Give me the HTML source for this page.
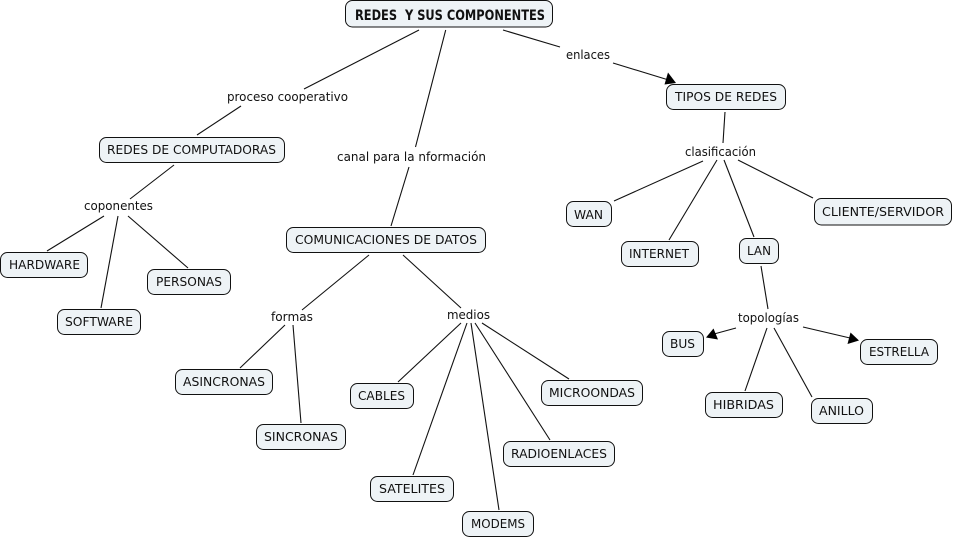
<!DOCTYPE html>
<html><head><meta charset="utf-8"><style>
html,body{margin:0;padding:0;background:#fff;width:954px;height:539px;overflow:hidden}
svg{display:block}
text{font-family:"DejaVu Sans","Liberation Sans",sans-serif;font-size:12px;fill:#111}
rect{fill:#eef3f6;stroke:#111;stroke-width:1}
line{stroke:#111;stroke-width:1.1}
polygon{fill:#000}
</style></head><body>
<svg width="954" height="539" viewBox="0 0 954 539" xmlns="http://www.w3.org/2000/svg">
<line x1="419" y1="30" x2="304" y2="89"/><line x1="241" y1="106" x2="197" y2="135"/>
<line x1="445.7" y1="30" x2="415.5" y2="147"/><line x1="409" y1="167" x2="391" y2="226"/>
<line x1="503" y1="30" x2="560" y2="47"/><line x1="613" y1="63" x2="667" y2="79.5"/>
<polygon points="676,83 668,72.5 664.5,84.5"/>
<line x1="725" y1="112" x2="723" y2="143"/>
<line x1="703" y1="161" x2="614" y2="201"/><line x1="717" y1="160" x2="669" y2="240"/>
<line x1="724" y1="160" x2="754" y2="237"/><line x1="738" y1="160" x2="813" y2="198"/>
<line x1="174" y1="165" x2="130" y2="199"/><line x1="104" y1="216" x2="47" y2="251"/>
<line x1="118" y1="216" x2="101" y2="308"/><line x1="128" y1="216" x2="188" y2="268"/>
<line x1="369" y1="255" x2="302" y2="310"/><line x1="403" y1="255" x2="461" y2="308"/>
<line x1="285" y1="325" x2="240" y2="368"/><line x1="293" y1="325" x2="301" y2="423"/>
<line x1="461" y1="323" x2="398" y2="382"/><line x1="467" y1="323" x2="413" y2="475"/>
<line x1="471" y1="323" x2="499" y2="510"/><line x1="475" y1="323" x2="550" y2="440"/>
<line x1="482" y1="323" x2="569" y2="379"/>
<line x1="761" y1="266" x2="768" y2="309"/>
<line x1="736" y1="328" x2="714" y2="334"/><polygon points="706,337.5 713.5,328.5 718,339.5"/>
<line x1="803" y1="327" x2="850" y2="338"/>
<polygon points="859,340.5 850.5,332.5 847.5,344"/>
<line x1="767" y1="328" x2="745" y2="391"/><line x1="774" y1="328" x2="812" y2="397"/>

<rect x="345.5" y="0.5" width="207" height="26.5" rx="7"/>
<rect x="666.5" y="84.5" width="119" height="25" rx="7"/>
<rect x="814.5" y="198.5" width="137" height="26.5" rx="7"/>
<rect x="99.5" y="137.5" width="185" height="25" rx="7"/>
<rect x="0.5" y="252.5" width="87" height="25" rx="7"/>
<rect x="147.5" y="269.5" width="83" height="25" rx="7"/>
<rect x="57.5" y="309.5" width="83" height="25" rx="7"/>
<rect x="286.5" y="227.5" width="199" height="25" rx="7"/>
<rect x="175.5" y="369.5" width="97" height="25" rx="7"/>
<rect x="256.5" y="424.5" width="89" height="25" rx="7"/>
<rect x="350.5" y="383.5" width="63" height="25" rx="7"/>
<rect x="541.5" y="380.5" width="101" height="25" rx="7"/>
<rect x="503.5" y="441.5" width="111" height="25" rx="7"/>
<rect x="370.5" y="476.5" width="83" height="25" rx="7"/>
<rect x="462.5" y="511.5" width="71" height="25" rx="7"/>
<rect x="566.5" y="201.5" width="45" height="25" rx="7"/>
<rect x="621.5" y="241.5" width="77" height="25" rx="7"/>
<rect x="739.5" y="238.5" width="39" height="25" rx="7"/>
<rect x="662.5" y="331.5" width="41" height="25" rx="7"/>
<rect x="860.5" y="339.5" width="77" height="25" rx="7"/>
<rect x="705.5" y="392.5" width="77" height="25" rx="7"/>
<rect x="811.5" y="398.5" width="61" height="25" rx="7"/>

<text x="355" y="20" font-weight="bold" style="font-size:14px" textLength="190" lengthAdjust="spacingAndGlyphs" xml:space="preserve">REDES  Y SUS COMPONENTES</text>
<text x="675" y="101" textLength="102" lengthAdjust="spacingAndGlyphs">TIPOS DE REDES</text>
<text x="822" y="216" textLength="122" lengthAdjust="spacingAndGlyphs">CLIENTE/SERVIDOR</text>
<text x="107" y="154" textLength="169" lengthAdjust="spacingAndGlyphs">REDES DE COMPUTADORAS</text>
<text x="9" y="269" textLength="71" lengthAdjust="spacingAndGlyphs">HARDWARE</text>
<text x="156" y="286" textLength="66" lengthAdjust="spacingAndGlyphs">PERSONAS</text>
<text x="65" y="326" textLength="68" lengthAdjust="spacingAndGlyphs">SOFTWARE</text>
<text x="295" y="244" textLength="182" lengthAdjust="spacingAndGlyphs">COMUNICACIONES DE DATOS</text>
<text x="183" y="386" textLength="82" lengthAdjust="spacingAndGlyphs">ASINCRONAS</text>
<text x="264" y="441" textLength="74" lengthAdjust="spacingAndGlyphs">SINCRONAS</text>
<text x="358" y="400" textLength="47" lengthAdjust="spacingAndGlyphs">CABLES</text>
<text x="549" y="397" textLength="86" lengthAdjust="spacingAndGlyphs">MICROONDAS</text>
<text x="511" y="458" textLength="96" lengthAdjust="spacingAndGlyphs">RADIOENLACES</text>
<text x="379" y="493" textLength="66" lengthAdjust="spacingAndGlyphs">SATELITES</text>
<text x="471" y="528" textLength="54" lengthAdjust="spacingAndGlyphs">MODEMS</text>
<text x="574" y="219" textLength="29" lengthAdjust="spacingAndGlyphs">WAN</text>
<text x="629" y="258" textLength="60" lengthAdjust="spacingAndGlyphs">INTERNET</text>
<text x="747" y="255" textLength="24" lengthAdjust="spacingAndGlyphs">LAN</text>
<text x="670" y="348" textLength="25" lengthAdjust="spacingAndGlyphs">BUS</text>
<text x="869" y="356" textLength="60" lengthAdjust="spacingAndGlyphs">ESTRELLA</text>
<text x="713" y="409" textLength="61" lengthAdjust="spacingAndGlyphs">HIBRIDAS</text>
<text x="819" y="415" textLength="45" lengthAdjust="spacingAndGlyphs">ANILLO</text>

<text x="227" y="101" textLength="121" lengthAdjust="spacingAndGlyphs">proceso cooperativo</text>
<text x="337" y="161" textLength="149" lengthAdjust="spacingAndGlyphs">canal para la nformación</text>
<text x="566" y="59" textLength="44" lengthAdjust="spacingAndGlyphs">enlaces</text>
<text x="685" y="156" textLength="71" lengthAdjust="spacingAndGlyphs">clasificación</text>
<text x="84" y="210" textLength="69" lengthAdjust="spacingAndGlyphs">coponentes</text>
<text x="271" y="321" textLength="42" lengthAdjust="spacingAndGlyphs">formas</text>
<text x="447" y="319" textLength="43" lengthAdjust="spacingAndGlyphs">medios</text>
<text x="738" y="322" textLength="61" lengthAdjust="spacingAndGlyphs">topologías</text>
</svg>
</body></html>
